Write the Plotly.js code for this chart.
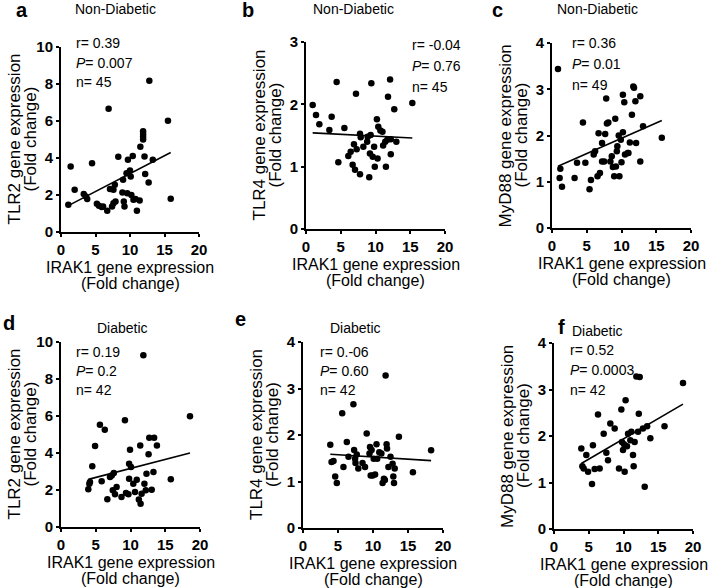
<!DOCTYPE html>
<html>
<head>
<meta charset="utf-8">
<script src="https://cdn.plot.ly/plotly-3.0.1.min.js"></script>
<style>
  html, body { margin: 0; padding: 0; background: #fff; }
  #chart { width: 711px; height: 588px; }
</style>
</head>
<body>
<div id="chart"></div>
<script>
// ── Datos ─────────────────────────────────────────────────────────────────────
// a: No diabéticos, IRAK1 vs TLR2
const irakA = [1.06, 1.4, 1.98, 3.3, 3.6, 3.8, 4.5, 5.2, 5.5, 5.9, 6.1, 6.7, 6.9, 7.1, 7.4, 7.6, 7.8, 7.6, 7.9,
    8.3, 9.0, 8.9, 9.1, 9.2, 9.5, 9.6, 9.7, 10.0, 10.1, 10.2, 10.4, 10.5, 10.8, 11.0, 11.4, 11.5,
    11.9, 11.9, 11.9, 11.9, 12.1, 12.2, 12.7, 12.8, 13.3, 15.5, 15.9];
const tlr2A = [1.47, 3.54, 2.28, 2.06, 1.92, 1.78, 3.72, 1.53, 1.42, 1.35, 1.38, 1.15, 6.66, 2.32, 1.38, 1.56, 2.55, 2.28, 1.65,
    4.07, 2.82, 2.14, 1.65, 1.38, 3.18, 2.1, 3.9, 3.32, 3.0, 2.0, 4.11, 1.74, 1.78, 1.15, 1.7, 4.61,
    5.45, 5.3, 5.15, 5.0, 4.08, 3.14, 2.67, 8.17, 3.9, 6.01, 1.8];

// b: No diabéticos, IRAK1 vs TLR4
const irakB = [0.96, 1.44, 1.92, 3.36, 3.69, 4.41, 4.65, 5.52, 6.09, 6.43, 6.71, 6.9, 7.05, 7.19, 7.29, 7.77, 7.77, 7.87,
    8.25, 8.8, 8.87, 9.1, 9.2, 9.3, 9.4, 9.6, 9.8, 9.9, 10.2, 10.3, 10.4, 10.7, 11.0, 11.1, 11.4, 11.5,
    11.7, 11.8, 12.1, 12.2, 12.2, 12.7, 13.0, 15.3];
const tlr4B = [1.99, 1.83, 1.68, 1.59, 1.80, 2.36, 1.07, 1.62, 1.17, 1.24, 1.03, 1.36, 0.95, 2.17, 1.28, 0.88, 1.53, 1.47,
    1.32, 1.40, 1.48, 0.83, 1.21, 1.51, 2.34, 1.16, 1.32, 1.0, 1.76, 1.13, 1.64, 1.58, 1.56, 1.34, 1.40, 1.0,
    1.43, 2.12, 2.40, 1.20, 1.44, 1.92, 1.40, 2.02];

// c: No diabéticos, IRAK1 vs MyD88
const irakC = [0.86, 1.1, 1.2, 1.44, 3.25, 3.6, 4.45, 4.8, 5.4, 5.6, 6.0, 6.2, 6.55, 6.7, 6.9, 7.2, 7.2, 7.5, 7.65, 7.8,
    7.9, 8.1, 8.4, 8.6, 8.76, 8.95, 9.1, 9.2, 9.33, 9.4, 9.6, 9.7, 9.9, 10.0, 10.2, 10.2, 10.4, 10.5,
    10.9, 11.0, 11.2, 11.5, 11.7, 11.8, 12.0, 12.1, 12.7, 12.7, 13.1, 15.8];
const myd88C = [3.44, 1.08, 1.28, 0.89, 1.08, 1.41, 2.28, 1.41, 0.84, 1.04, 1.59, 1.66, 1.12, 2.05, 1.19, 1.44, 1.84, 1.44, 2.03, 2.80,
    2.26, 2.28, 1.44, 1.55, 1.32, 1.12, 2.36, 1.33, 1.66, 1.77, 2.0, 1.12, 1.91, 1.42, 2.07, 2.88, 2.72, 1.59,
    1.62, 1.62, 1.85, 2.45, 3.06, 3.03, 2.74, 1.84, 2.85, 1.44, 2.2, 1.95];

// d: Diabéticos, IRAK1 vs TLR2
const irakD = [3.93, 4.08, 4.17, 4.5, 4.9, 5.6, 5.85, 6.3, 6.67, 7.05, 7.3, 7.45, 7.6, 7.77, 8.0, 8.7, 9.2, 9.35, 9.7,
    9.8, 9.8, 9.93, 10.07, 10.4, 10.65, 10.9, 11.2, 11.4, 11.45, 11.6, 11.85, 12.0, 12.2, 12.3, 12.6,
    12.7, 13.05, 13.3, 13.4, 13.8, 15.8, 18.56];
const tlr2D = [2.04, 2.34, 2.43, 3.28, 4.38, 5.53, 2.47, 5.26, 1.5, 2.70, 2.79, 1.98, 2.92, 1.77, 2.16, 1.62, 5.77, 1.84, 1.77,
    2.61, 3.42, 4.18, 3.24, 2.34, 1.89, 2.56, 1.48, 4.41, 1.26, 1.80, 9.28, 2.34, 1.98, 2.88, 3.93,
    4.83, 2.02, 2.97, 4.83, 4.41, 2.58, 5.98];

// e: Diabéticos, IRAK1 vs TLR4
const irakE = [3.9, 4.08, 4.36, 4.6, 4.83, 5.6, 5.78, 6.26, 6.5, 7.2, 7.3, 7.44, 7.5, 7.68, 7.9, 8.5, 8.86, 9.1, 9.5,
    9.57, 9.67, 9.8, 9.95, 10.1, 10.3, 10.5, 10.6, 10.9, 11.2, 11.37, 11.56, 11.7, 11.8, 11.94, 12.0,
    12.2, 12.5, 12.8, 12.9, 13.0, 13.1, 13.7, 15.7, 18.3];
const tlr4E = [1.79, 1.42, 1.44, 1.11, 0.97, 2.47, 1.31, 1.85, 1.53, 2.66, 1.68, 1.49, 1.40, 1.58, 1.28, 1.40, 1.31, 2.03, 1.6,
    1.74, 1.13, 1.68, 1.13, 1.49, 1.15, 1.80, 1.49, 1.63, 1.60, 0.97, 1.06, 1.03, 3.28, 1.80, 1.71,
    1.31, 1.53, 1.38, 1.11, 0.97, 1.28, 1.96, 1.20, 1.67];

// f: Diabéticos, IRAK1 vs MyD88
const irakF = [3.93, 4.08, 4.27, 4.65, 4.9, 5.47, 5.6, 5.85, 6.33, 6.57, 7.15, 7.53, 7.77, 8.1, 8.73, 9.35, 9.69, 9.78,
    9.93, 10.07, 10.17, 10.3, 10.5, 10.65, 10.98, 11.13, 11.37, 11.46, 11.6, 11.85, 12.09, 12.2, 12.33,
    12.8, 13.05, 13.4, 13.86, 15.9, 18.56];
const myd88F = [1.73, 1.35, 1.30, 1.59, 1.23, 0.97, 1.80, 1.29, 2.46, 1.30, 2.05, 1.64, 1.48, 2.27, 2.16, 1.30, 2.57, 1.87,
    1.70, 1.82, 1.23, 2.77, 1.78, 2.05, 1.91, 2.09, 1.59, 1.35, 1.87, 3.28, 2.09, 2.48, 3.27,
    2.16, 0.91, 2.21, 1.95, 2.21, 3.14];

const panelLetters = ['a', 'b', 'c', 'd', 'e', 'f'];
const groupTitles = ['Non-Diabetic', 'Non-Diabetic', 'Non-Diabetic', 'Diabetic', 'Diabetic', 'Diabetic'];
const yGenes = ['TLR2', 'TLR4', 'MyD88', 'TLR2', 'TLR4', 'MyD88'];
const xTitle = 'IRAK1 gene expression';
const unitTitle = '(Fold change)';
const rValues = ['0.39', '-0.04', '0.36', '0.19', '0.-06', '0.52'];
const pValues = ['0.007', '0.76', '0.01', '0.2', '0.60', '0.0003'];
const nValues = ['45', '45', '49', '42', '42', '42'];
const xTicks = [0, 5, 10, 15, 20];
const yMax = [10, 3, 4, 10, 4, 4];
const yStep = [2, 1, 1, 2, 1, 1];

// ── Geometría (px de la imagen 711×588) ───────────────────────────────────────
const W = 711, H = 588;
const fx = x => x / W;
const fy = y => 1 - y / H;
// [izq, der, arriba, abajo] del área de cada panel
const boxes = [
    [61, 199, 47, 232], [306, 445, 42, 229], [552, 691, 43, 228],
    [61, 200, 342, 527], [303, 443, 342, 528], [554, 693, 343, 529],
];
const letterPos = [[22, 10], [248, 10], [497, 10], [9, 323], [240, 319], [561, 327]];
const titlePos = [[115, 9], [353, 9], [597, 9], [122, 328], [355, 328], [597, 331]];
const statPos = [[74, 43], [410, 45], [570, 43], [74, 352], [318, 352], [568, 350]];
const statGap = [19.5, 21, 21, 19, 19, 20];

const FONT = 'Liberation Sans, Arial, sans-serif';

const panels = [
    [irakA, tlr2A], [irakB, tlr4B], [irakC, myd88C],
    [irakD, tlr2D], [irakE, tlr4E], [irakF, myd88F],
];

// recta de mínimos cuadrados
function ajuste(xs, ys) {
    const n = xs.length;
    const mx = xs.reduce((s, v) => s + v, 0) / n;
    const my = ys.reduce((s, v) => s + v, 0) / n;
    let sxy = 0, sxx = 0;
    xs.forEach((x, i) => { sxy += (x - mx) * (ys[i] - my); sxx += (x - mx) * (x - mx); });
    const m = sxy / sxx, b = my - m * mx;
    const x0 = Math.min(...xs), x1 = Math.max(...xs);
    return { x: [x0, x1], y: [m * x0 + b, m * x1 + b] };
}

const negrita = v => '<b>' + v + '</b>';

const ejeBase = {
    showgrid: false, zeroline: false, showline: true, linecolor: '#000', linewidth: 2,
    ticks: 'outside', ticklen: 3, tickwidth: 2, tickcolor: '#000',
    tickfont: { family: FONT, size: 15, color: '#000' },
    fixedrange: true,
};

const traces = [];
const layout = {
    width: W, height: H, margin: { t: 0, r: 0, b: 0, l: 0 },
    paper_bgcolor: '#fff', plot_bgcolor: '#fff', showlegend: false,
    annotations: [],
};

function texto(x, y, text, size, extra) {
    return Object.assign({
        xref: 'paper', yref: 'paper', x: fx(x), y: fy(y), text, showarrow: false,
        xanchor: 'center', yanchor: 'middle',
        font: { family: FONT, size, color: '#000' },
    }, extra || {});
}

panels.forEach(([xs, ys], i) => {
    const k = i === 0 ? '' : String(i + 1);
    const [l, r, t, b] = boxes[i];

    traces.push({
        type: 'scatter', mode: 'markers', x: xs, y: ys,
        xaxis: 'x' + k, yaxis: 'y' + k,
        marker: { color: '#000', size: 6.5 },
    });
    const fit = ajuste(xs, ys);
    traces.push({
        type: 'scatter', mode: 'lines', x: fit.x, y: fit.y,
        xaxis: 'x' + k, yaxis: 'y' + k,
        line: { color: '#000', width: 1.6 },
    });

    layout['xaxis' + k] = {
        ...ejeBase, domain: [fx(l), fx(r)], anchor: 'y' + k,
        range: [0, 20], tickvals: xTicks, ticktext: xTicks.map(negrita),
    };
    const yt = [];
    for (let v = 0; v <= yMax[i]; v += yStep[i]) yt.push(v);
    layout['yaxis' + k] = {
        ...ejeBase, domain: [fy(b), fy(t)], anchor: 'x' + k,
        range: [0, yMax[i]], tickvals: yt, ticktext: yt.map(negrita),
    };

    // títulos de ejes (dos renglones, interlineado apretado como en la figura)
    const ann = layout.annotations;
    const cx = (l + r) / 2, cy = (t + b) / 2;
    ann.push(texto(cx, b + 35, xTitle, 16));
    ann.push(texto(cx, b + 51.5, unitTitle, 16));
    ann.push(texto(l - 47, cy, yGenes[i] + ' gene expression', 17, { textangle: -90 }));
    ann.push(texto(l - 31, cy, unitTitle, 17, { textangle: -90 }));

    ann.push(texto(letterPos[i][0], letterPos[i][1], '<b>' + panelLetters[i] + '</b>', 20));
    ann.push(texto(titlePos[i][0], titlePos[i][1], groupTitles[i], 14));
    const stats = ['r= ' + rValues[i], '<i>P</i>= ' + pValues[i], 'n= ' + nValues[i]];
    stats.forEach((s, j) => {
        ann.push(texto(statPos[i][0], statPos[i][1] + j * statGap[i], s, 14, { xanchor: 'left' }));
    });
});

Plotly.newPlot('chart', traces, layout, { staticPlot: true });
</script>
</body>
</html>
